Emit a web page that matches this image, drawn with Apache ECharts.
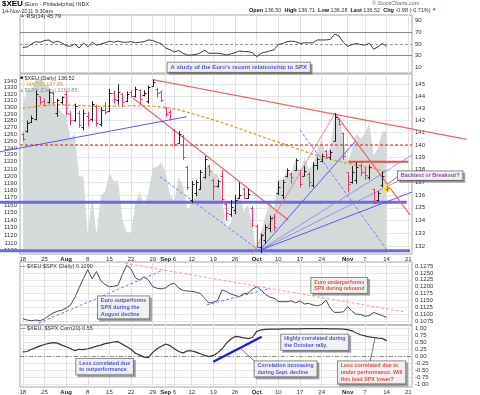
<!DOCTYPE html>
<html><head><meta charset="utf-8">
<script src="https://cdn.jsdelivr.net/npm/echarts@6/dist/echarts.min.js"></script>
<style>html,body{margin:0;padding:0;background:#fff}#c{width:480px;height:395px}</style>
</head><body><div id="c"></div>
<script>
// ---------------- DATA ----------------
const dates = [
 '2011-07-18','2011-07-19','2011-07-20','2011-07-21','2011-07-22','2011-07-25','2011-07-26','2011-07-27','2011-07-28','2011-07-29',
 '2011-08-01','2011-08-02','2011-08-03','2011-08-04','2011-08-05','2011-08-08','2011-08-09','2011-08-10','2011-08-11','2011-08-12',
 '2011-08-15','2011-08-16','2011-08-17','2011-08-18','2011-08-19','2011-08-22','2011-08-23','2011-08-24','2011-08-25','2011-08-26',
 '2011-08-29','2011-08-30','2011-08-31','2011-09-01','2011-09-02','2011-09-06','2011-09-07','2011-09-08','2011-09-09','2011-09-12',
 '2011-09-13','2011-09-14','2011-09-15','2011-09-16','2011-09-19','2011-09-20','2011-09-21','2011-09-22','2011-09-23','2011-09-26',
 '2011-09-27','2011-09-28','2011-09-29','2011-09-30','2011-10-03','2011-10-04','2011-10-05','2011-10-06','2011-10-07','2011-10-10',
 '2011-10-11','2011-10-12','2011-10-13','2011-10-14','2011-10-17','2011-10-18','2011-10-19','2011-10-20','2011-10-21','2011-10-24',
 '2011-10-25','2011-10-26','2011-10-27','2011-10-28','2011-10-31','2011-11-01','2011-11-02','2011-11-03','2011-11-04','2011-11-07',
 '2011-11-08','2011-11-09','2011-11-10','2011-11-11','2011-11-14'];

const tickDays   = [0,5,10,15,20,25,30,33,35,39,44,49,54,59,64,69,75,79,84,89];
const tickLabels = ['18','25','Aug','8','15','22','29','Sep','6','12','19','26','Oct','10','17','24','Nov','7','14','21'];

const euroOpen = [140.9,141.1,141.9,142.1,144.0,143.6,143.5,144.3,142.6,143.5,
 144.2,142.5,142.0,142.6,141.5,142.4,142.1,143.2,141.7,142.9,
 142.8,144.3,143.7,144.2,143.6,144.4,144.0,144.5,144.1,143.6,
 144.9,144.6,144.4,143.0,142.7,141.2,140.2,140.7,138.2,135.6,
 136.2,136.5,137.4,138.3,137.2,136.7,137.5,135.3,134.5,134.8,
 135.8,136.5,135.8,135.0,133.6,132.0,132.5,133.4,134.3,136.2,
 136.0,137.5,137.7,138.0,138.0,137.5,137.7,136.8,138.4,138.7,
 139.5,139.0,140.3,142.1,141.0,137.8,137.0,137.2,138.4,137.8,
 137.4,136.5,135.6,136.8,136.50];
const euroHigh = [141.0,142.0,142.4,144.5,144.0,143.8,144.6,144.4,143.8,144.0,
 144.5,142.8,143.4,142.8,142.9,142.7,143.6,143.3,143.1,143.5,
 144.6,144.5,145.0,144.3,144.4,144.5,144.8,144.6,144.5,144.9,
 145.4,144.7,144.5,143.1,142.9,141.3,141.1,140.8,138.3,137.1,
 137.2,138.0,139.1,138.4,137.3,137.2,138.0,135.4,135.6,136.0,
 137.0,136.6,136.5,135.1,133.7,133.0,133.7,134.4,134.5,137.1,
 137.2,138.1,137.8,138.9,138.0,138.3,137.8,138.6,139.0,139.3,
 139.6,139.6,142.6,142.2,141.0,137.8,138.3,138.6,138.5,138.2,
 138.4,136.5,136.3,137.9,136.71];
const euroLow = [140.3,141.0,141.8,142.0,143.3,143.2,143.4,143.3,142.3,143.3,
 142.4,141.6,141.9,141.4,141.2,141.5,141.9,141.5,141.5,142.5,
 142.7,143.4,143.3,143.1,143.5,143.9,143.9,143.3,144.0,143.4,
 144.8,143.9,143.5,142.3,142.0,139.9,140.1,138.8,136.4,135.4,
 135.9,136.4,137.3,137.5,135.6,136.6,135.5,134.0,134.3,134.5,
 135.7,135.7,135.7,133.5,131.9,131.5,132.2,133.1,133.2,136.0,
 135.7,137.4,136.9,137.9,136.6,137.5,136.6,136.6,138.0,138.6,
 138.9,138.8,140.3,141.6,138.8,136.2,136.9,136.9,137.5,137.2,
 137.2,135.3,135.5,136.6,136.28];
const euroClose = [140.5,141.8,142.2,144.2,143.5,143.3,144.4,143.5,143.7,143.9,
 142.6,142.0,143.2,141.6,142.6,142.0,143.4,141.8,142.9,142.7,
 144.3,143.8,144.4,143.5,144.2,144.0,144.6,143.8,144.3,144.8,
 145.2,144.3,143.7,142.5,142.1,140.1,140.9,139.0,136.6,136.9,
 137.0,137.8,138.9,137.9,136.7,137.1,135.7,134.6,135.1,135.6,
 136.0,135.8,136.1,133.7,132.0,132.9,133.5,134.2,133.5,136.6,
 137.0,138.0,137.4,138.8,136.9,137.9,137.0,138.4,138.9,139.1,
 139.0,139.4,142.3,141.7,139.1,136.9,137.8,138.2,137.8,137.6,
 138.2,135.4,136.2,137.5,136.52];
const ma50 = [143.0,143.05,143.1,143.15,143.2,143.22,143.25,143.27,143.28,143.28,
 143.27,143.26,143.25,143.24,143.22,143.2,143.19,143.18,143.17,143.17,
 143.17,143.18,143.19,143.2,143.2,143.21,143.21,143.2,143.2,143.19,
 143.18,143.15,143.12,143.08,143.02,142.95,142.87,142.78,142.68,142.58,
 142.47,142.36,142.26,142.15,142.04,141.93,141.82,141.7,141.58,141.45,
 141.33,141.2,141.08,140.95,140.83,140.7,140.58,140.46,140.34,140.22,
 140.1,139.98,139.86,139.74,139.62,139.5,139.38,139.26,139.14,139.03,
 138.93,138.84,138.76,138.68,138.6,138.52,138.45,138.38,138.31,138.24,
 138.17,138.1,138.03,137.96,137.89];
const spxClose = [1305.4,1326.7,1325.8,1343.8,1345.0,1337.4,1331.9,1304.9,1300.7,1292.3,
 1286.9,1254.1,1260.3,1200.1,1199.4,1119.5,1172.5,1120.8,1172.6,1178.8,
 1204.5,1192.8,1193.9,1140.7,1123.5,1123.8,1162.4,1177.6,1159.3,1176.8,
 1210.1,1212.9,1218.9,1204.4,1174.0,1165.2,1198.6,1185.9,1154.2,1162.3,
 1172.9,1188.7,1209.1,1216.0,1204.1,1202.1,1166.8,1129.6,1136.4,1163.0,
 1175.4,1151.1,1160.4,1131.4,1099.2,1124.0,1144.0,1165.0,1155.5,1194.9,
 1195.5,1207.3,1203.7,1224.6,1200.9,1225.4,1209.9,1215.4,1238.3,1254.2,
 1229.1,1242.0,1284.6,1285.1,1253.3,1218.3,1237.9,1261.2,1253.2,1261.1,
 1275.9,1229.1,1239.7,1263.9,1263.85];
const rsi14 = [44,45,50,54,53,56,57,52,55,52,
 47,46,50,43,52,45,53,48,50,52,
 55,53,55,53,53,54,52,53,54,57,
 56,53,50,43,40,36,39,34,31,31,
 32,35,39,34,34,34,33,31,33,35,
 38,37,37,35,28,34,36,38,40,49,
 51,54,55,54,51,52,52,52,57,57,
 57,58,67,64,53,46,49,51,49,48,
 51,41,45,51,45.79];
const ratio = [0.1083,0.1078,0.1076,0.1078,0.1076,0.1082,0.1094,0.1104,0.1110,0.1114,
 0.1122,0.1133,0.1160,0.1196,0.1230,0.1262,0.1228,0.1255,0.1222,0.1208,
 0.1200,0.1201,0.1206,0.1245,0.1278,0.1264,0.1232,0.1224,0.1236,0.1224,
 0.1200,0.1194,0.1192,0.1196,0.1208,0.1212,0.1195,0.1186,0.1184,0.1183,
 0.1180,0.1175,0.1157,0.1140,0.1143,0.1150,0.1188,0.1182,0.1174,0.1168,
 0.1163,0.1175,0.1176,0.1190,0.1200,0.1188,0.1172,0.1162,0.1158,0.1146,
 0.1145,0.1145,0.1148,0.1141,0.1148,0.1137,0.1139,0.1133,0.1130,0.1135,
 0.1151,0.1121,0.1106,0.1106,0.1108,0.1127,0.1110,0.1099,0.1099,0.1092,
 0.1094,0.1106,0.1100,0.1094,0.1088];
const corr20 = [0.15,0.16,0.24,0.30,0.36,0.41,0.45,0.48,0.46,0.39,
 0.33,0.27,0.19,0.24,0.23,0.26,0.30,0.35,0.39,0.44,
 0.47,0.50,0.51,0.42,0.33,0.24,0.10,0.03,-0.04,-0.06,
 0.13,0.26,0.35,0.43,0.37,0.26,0.16,0.11,0.18,0.18,
 0.14,0.08,0.02,-0.02,0.02,0.12,0.25,0.45,0.60,0.70,
 0.68,0.65,0.62,0.66,0.88,0.93,0.95,0.96,0.96,0.96,
 0.97,0.97,0.97,0.97,0.97,0.98,0.98,0.98,0.98,0.98,
 0.98,0.97,0.97,0.97,0.96,0.94,0.90,0.82,0.76,0.72,
 0.68,0.66,0.64,0.63,0.55];

const euroTicks  = [132,133,134,135,136,137,138,139,140,141,142,143,144,145];
const spxTicks   = [1100,1110,1120,1130,1140,1150,1160,1170,1180,1190,1200,1210,1220,1230,1240,1250,1260,1270,1280,1290,1300,1310,1320,1330,1340];
const rsiTicks   = [10,30,50,70,90];
const ratioTicks = [0.1075,0.1100,0.1125,0.1150,0.1175,0.1200,0.1225,0.1250,0.1275];
const corrTicks  = [-1,-0.75,-0.5,-0.25,0,0.25,0.5,0.75,1];

// trendline annotations (day index, value)
const priceTrends = [
 {a:[30,145.4],    b:[102.5,140.46], k:'red'},
 {a:[25.5,143.83], b:[61.3,134.05],  k:'red'},
 {a:[-5.27,139.45],b:[37.84,142.31], k:'blue'},
 {a:[-0.65,140.0], b:[89.86,140.0],  k:'redDash'},
 {a:[75.15,138.65],b:[89.0,138.65],  k:'redThick'},
 {a:[-5.27,135.43],b:[88.64,135.43], k:'blueThick'},
 {a:[-5.27,131.69],b:[89.4,131.69],  k:'blueThick'},
 {a:[31.68,137.45],b:[54.6,131.7],   k:'blueDash'},
 {a:[54.6,131.7],  b:[76.7,140.27],  k:'blue'},
 {a:[54.6,131.7],  b:[89.86,139.19], k:'blueThin'},
 {a:[54.6,131.7],  b:[89.86,137.67], k:'blueThin'},
 {a:[54.6,131.7],  b:[89.86,136.24], k:'blue'},
 {a:[64.0,141.22], b:[84.1,131.74],  k:'blueDash'},
 {a:[52.92,131.44],b:[72.08,142.59], k:'redThin'},
 {a:[72.08,142.59],b:[89.4,134.45],  k:'red'},
 {a:[86.63,137.51],b:[84.3,136.87],  k:'pointer'}
];
const ratioTrends = [
 {a:[3.58,0.1066],  b:[32.44,0.12608], k:'blueDash'},
 {a:[23.59,0.12853],b:[87.85,0.11086], k:'redDash2'},
 {a:[42.46,0.1133], b:[57.07,0.1194],  k:'blueDash'}
];
const corrTrends = [
 {a:[43.98,-0.204], b:[55.16,0.689],  k:'blueBold'},
 {a:[50.15,0.286],  b:[53.61,-0.204], k:'pointer'},
 {a:[81.32,0.632],  b:[80.16,-0.204], k:'pointer'}
];
const notes = [
 {g:0, at:[33.52,17.2],   text:"A study of the Euro's recent relationship to SPX", c:'blue', fs:6},
 {g:1, at:[86.70,137.85], text:'Backtest or Breakout?', c:'purple', fs:5.5},
 {g:2, at:[17.43,0.11633],text:'Euro outperforms\nSPX during the\nAugust decline', c:'blue', fs:5.4},
 {g:2, at:[66.70,0.12305],text:'Euro underperforms\nSPX during rebound', c:'red', fs:5.2},
 {g:3, at:[12.44,-0.118], text:'Less correlated due\nto outperformance', c:'blue', fs:5.4},
 {g:3, at:[59.77,0.75],   text:'Highly correlated during\nthe October rally.', c:'blue', fs:5.3},
 {g:3, at:[53.61,-0.204], text:'Correlation increasing\nduring Sept. decline', c:'blue', fs:5.3},
 {g:3, at:[72.84,-0.204], text:'Less correlated due to\nunder performance. Will\nthis lead SPX lower?', c:'red', fs:5.4}
];

// ---------------- CHART ----------------
const L = Math.log10;
const FONT = '"Liberation Sans", Arial, Helvetica, sans-serif';
const PLOT_L = 20, PLOT_R = 68, W = 480;
const X_MIN = -0.65, X_MAX = 89.86;
const PX_PER_DAY = (W - PLOT_L - PLOT_R) / (X_MAX - X_MIN);
const OX_MIN = X_MIN - PLOT_L / PX_PER_DAY, OX_MAX = X_MAX + PLOT_R / PX_PER_DAY;
const EURO_MIN = 131.44, EURO_MAX = 145.87, SPX_MIN = 1095.8, SPX_MAX = 1351.4;

const styles = {
 red:      {color:'#ee6470', width:1.2},
 redThin:  {color:'#f07a80', width:0.9},
 redDash:  {color:'#e01818', width:1.2, type:[3,2]},
 redDash2: {color:'#f39a9a', width:1, type:[3,2]},
 redThick: {color:'#f04848', width:2},
 blue:     {color:'#5a5af0', width:1},
 blueThin: {color:'#8080f2', width:0.8},
 blueDash: {color:'#7878f2', width:1, type:[3,2]},
 blueThick:{color:'#6a6ae8', width:3},
 blueBold: {color:'#1c1ce8', width:2.4},
 pointer:  {color:'#555', width:0.8}
};
const noteColors = {blue:'#1f1fe0', red:'#e61a1a', purple:'#7a1f8e'};

function xAxis(gi, showLabels) {
  return {type:'value', gridIndex:gi, min:X_MIN, max:X_MAX,
    axisLine:{show:false}, axisTick:{show:false, customValues:tickDays},
    splitLine:{show:true, lineStyle:{color:'#e1e1e1', width:1}},
    axisLabel:{show:showLabels, customValues:tickDays, margin:2, fontSize:6, color:'#333', fontFamily:FONT,
      formatter: v => { const k = tickDays.indexOf(Math.round(v)); if (k < 0) return ''; const t = tickLabels[k];
        return /^[A-Z]/.test(t) ? '{m|' + t + '}' : t; },
      rich:{m:{fontWeight:'bold', fontSize:6, color:'#222', fontFamily:FONT}}}};
}
function yAxis(gi, pos, min, max, ticks, fmt, split) {
  return {type:'value', gridIndex:gi, position:pos, min, max,
    axisLine:{show:false}, axisTick:{show:false, customValues:ticks},
    splitLine:{show:!!split, lineStyle:{color:'#e6e6e6', width:1}},
    axisLabel:{customValues:ticks, margin:3, fontSize:6, color:'#333', fontFamily:FONT, formatter:fmt}};
}
function seg(xi, yi, t, tf) {
  const s = styles[t.k];
  return {type:'line', xAxisIndex:xi, yAxisIndex:yi, data:[[t.a[0], tf(t.a[1])],[t.b[0], tf(t.b[1])]],
    symbol:'none', clip:false, silent:true, z:6, lineStyle:{color:s.color, width:s.width, type:s.type || 'solid'}};
}
const id = v => v;

const euroData = dates.map((d, i) => [i, L(euroOpen[i]), L(euroHigh[i]), L(euroLow[i]), L(euroClose[i]),
  (i === 0 ? euroClose[i] >= euroOpen[i] : euroClose[i] >= euroClose[i-1]) ? 1 : 0]);

const series = [];
// RSI
series.push({type:'line', xAxisIndex:0, yAxisIndex:0, data:dates.map((d,i)=>[i, rsi14[i]]), symbol:'none',
  lineStyle:{color:'#3a3a3a', width:1}, z:5,
  markLine:{silent:true, symbol:'none', label:{show:false}, data:[
    {yAxis:70, lineStyle:{color:'#8a8a8a', width:1, type:'solid'}},
    {yAxis:30, lineStyle:{color:'#8a8a8a', width:1, type:'solid'}},
    {yAxis:50, lineStyle:{color:'#9a9a9a', width:1, type:[3,2]}}]}});
// SPX area
series.push({type:'line', xAxisIndex:1, yAxisIndex:2, data:dates.map((d,i)=>[i, L(spxClose[i])]), symbol:'none',
  lineStyle:{width:0}, areaStyle:{color:'#d4dada', opacity:1, origin:'start'}, z:1, silent:true});
// MA50
series.push({type:'line', xAxisIndex:1, yAxisIndex:1, data:dates.map((d,i)=>[i, L(ma50[i])]), symbol:'none',
  lineStyle:{color:'#e0a238', width:1.4, type:[3,2]}, z:4, silent:true});
// highlight on last bar
series.push({type:'scatter', xAxisIndex:1, yAxisIndex:1, data:[[84, L(euroClose[84])]], symbol:'circle', symbolSize:8,
  itemStyle:{color:'#f4e43a', opacity:0.95}, z:7, silent:true});
// OHLC bars
series.push({type:'custom', xAxisIndex:1, yAxisIndex:1, data:euroData, z:8, silent:true,
  encode:{x:0, y:[1,2,3,4]},
  renderItem(params, api) {
    const x = api.value(0);
    const h = api.coord([x, api.value(2)]), l = api.coord([x, api.value(3)]);
    const o = api.coord([x, api.value(1)]), c = api.coord([x, api.value(4)]);
    const col = api.value(5) ? '#1e1e1e' : '#e8386a';
    const px = Math.round(h[0]) + 0.5, oy = Math.round(o[1]) + 0.5, cy = Math.round(c[1]) + 0.5;
    return {type:'group', children:[
      {type:'line', shape:{x1:px, y1:h[1], x2:px, y2:l[1]}, style:{stroke:col, lineWidth:1}},
      {type:'line', shape:{x1:px-2, y1:oy, x2:px, y2:oy}, style:{stroke:col, lineWidth:1}},
      {type:'line', shape:{x1:px, y1:cy, x2:px+2, y2:cy}, style:{stroke:col, lineWidth:1}}]};
  }});
// price trendlines drawn on an overlay grid that shares the price scales but spans the full width
priceTrends.forEach(t => series.push(seg(4, 5, t, L)));
// ratio
series.push({type:'line', xAxisIndex:2, yAxisIndex:3, data:dates.map((d,i)=>[i, ratio[i]]), symbol:'none',
  lineStyle:{color:'#4a4a4a', width:1}, z:5});
ratioTrends.forEach(t => series.push(seg(2, 3, t, id)));
// correlation
series.push({type:'line', xAxisIndex:3, yAxisIndex:4, data:dates.map((d,i)=>[i, corr20[i]]), symbol:'none',
  lineStyle:{color:'#333', width:1.2}, z:5,
  markLine:{silent:true, symbol:'none', label:{show:false}, data:[
    {yAxis:0, lineStyle:{color:'#8a8a8a', width:1, type:[4,2,1,2]}}]}});
corrTrends.forEach(t => series.push(seg(3, 4, t, id)));
// annotation boxes
const yIdx = [0, 1, 3, 4];
notes.forEach(n => series.push({type:'scatter', xAxisIndex:n.g, yAxisIndex:yIdx[n.g],
  data:[[n.at[0], n.g === 1 ? L(n.at[1]) : n.at[1]]], symbolSize:1, itemStyle:{color:'rgba(0,0,0,0)'}, silent:true, z:20,
  label:{show:true, position:[0,0], formatter:n.text, color:noteColors[n.c], fontFamily:FONT, fontSize:n.fs,
    fontWeight:'bold', lineHeight:n.fs + 1.4, backgroundColor:'#fff', borderColor:'#555', borderWidth:0.8,
    padding:[1,3,1,3], shadowColor:'rgba(90,90,90,0.55)', shadowOffsetX:2, shadowOffsetY:2, shadowBlur:0}}));

const txt = (left, top, text, extra) => ({type:'text', left, top, z:100, silent:true,
  style:Object.assign({text, fontFamily:FONT, fontSize:5.5, fill:'#333'}, extra || {})});

const option = {
  animation:false,
  backgroundColor:'#fff',
  grid:[
    {left:PLOT_L, right:PLOT_R, top:15, height:58},
    {left:PLOT_L, right:PLOT_R, top:74, height:180},
    {left:PLOT_L, right:PLOT_R, top:262, height:63},
    {left:PLOT_L, right:PLOT_R, top:325, height:62}
  ].map(g => Object.assign({show:true, borderColor:'#a6a6a6', borderWidth:1, backgroundColor:'rgba(0,0,0,0)'}, g))
   .concat([{show:false, left:0, right:0, top:74, height:180}]),
  xAxis:[xAxis(0,false), xAxis(1,true), xAxis(2,false), xAxis(3,true),
    {type:'value', gridIndex:4, min:OX_MIN, max:OX_MAX, show:false}],
  yAxis:[
    yAxis(0, 'right', 0, 100, rsiTicks, v => String(v), false),
    yAxis(1, 'right', L(EURO_MIN), L(EURO_MAX), euroTicks.map(L), v => String(Math.round(Math.pow(10, v))), true),
    yAxis(1, 'left', L(SPX_MIN), L(SPX_MAX), spxTicks.map(L), v => String(Math.round(Math.pow(10, v))), false),
    yAxis(2, 'right', 0.106, 0.129, ratioTicks, v => v.toFixed(4), true),
    yAxis(3, 'right', -1.107, 1.107, corrTicks, v => v.toFixed(2), true),
    {type:'value', gridIndex:4, min:L(EURO_MIN), max:L(EURO_MAX), show:false}
  ],
  series,
  graphic:[
    txt(2, 0, '{b|$XEU} (Euro - Philadelphia) INDX', {rich:{b:{fontWeight:'bold', fontSize:8, fill:'#000', fontFamily:FONT}}}),
    txt(2, 8, '14-Nov-2011 9:30am'),
    txt(372, 0, '\u00A9 StockCharts.com', {fill:'#666'}),
    txt(249, 7, '{b|Open} 136.50  {b|High} 136.71  {b|Low} 136.28  {b|Last} 136.52  {b|Chg} -0.98 (-0.71%) {r|\u25BC}',
      {rich:{b:{fontWeight:'bold', fontSize:5.5, fill:'#111', fontFamily:FONT}, r:{fontSize:4.5, fill:'#e01818'}}}),
    txt(20, 13, '{g|\u25B2} RSI(14) 45.79', {rich:{g:{fontSize:5, fill:'#2a9a2a'}}}),
    txt(20, 75, '{k|\u25A0} $XEU (Daily) 136.52', {rich:{k:{fontSize:5, fill:'#222'}}}),
    txt(20, 81.5, '- - MA(50) 137.89', {fill:'#d89a30'}),
    txt(20, 87.5, '{k|\u25A0} $SPX (Daily) 1263.85', {fill:'#8a9090', rich:{k:{fontSize:5, fill:'#b8c0c0'}}}),
    txt(20, 263, '\u2014 $XEU:$SPX (Daily) 0.1090'),
    txt(20, 325, '\u2014 $XEU, $SPX Corr(20) 0.55')
  ]
};
const chart = echarts.init(document.getElementById('c'), null, {renderer:'canvas', width:480, height:395});
chart.setOption(option);
</script>
</body></html>
